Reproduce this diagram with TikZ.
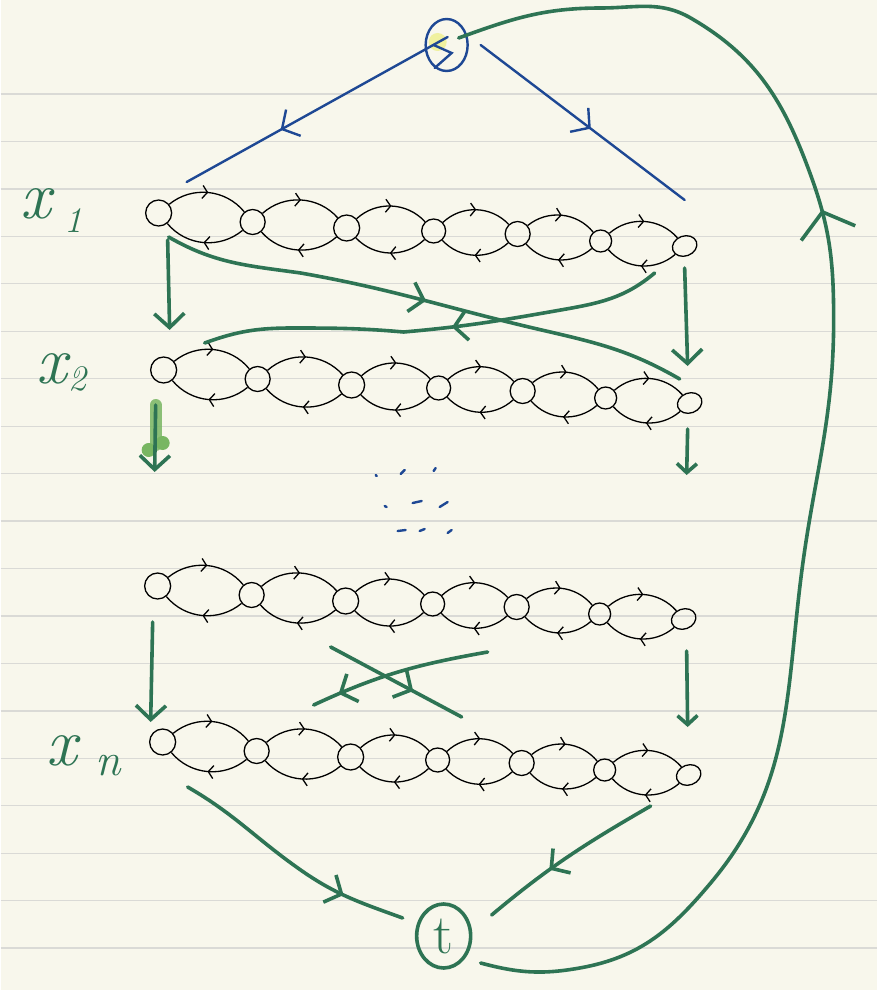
\documentclass[tikz,border=0pt]{standalone}
\usepackage{fontspec}
\usetikzlibrary{arrows.meta,decorations.markings,shapes.geometric}

\definecolor{paper}{RGB}{248,247,236}
\definecolor{rule}{RGB}{218,218,214}
\definecolor{ink}{RGB}{46,116,84}
\definecolor{pen}{RGB}{30,72,148}
\definecolor{hilite}{RGB}{120,182,98}
\definecolor{marker}{RGB}{238,240,140}

\tikzset{
  chainnode/.style={ellipse, draw=black, line width=1.3pt, inner sep=0pt},
  linkarc/.style={line width=1.3pt, postaction={decorate},
    decoration={markings, mark=at position 0.5 with {\arrow{Straight Barb[length=5pt,width=13pt]}}}},
  gline/.style={draw=ink, line width=3.6pt, line cap=round},
  bline/.style={draw=pen, line width=2.4pt, line cap=round},
  gtip/.style={-{Straight Barb[length=14pt,width=30pt]}},
  gtipsmall/.style={-{Straight Barb[length=9pt,width=20pt]}},
  midarrow/.style={postaction={decorate},
    decoration={markings, mark=at position #1 with {\arrow{Straight Barb[length=13pt,width=30pt]}}}},
  bigmid/.style={postaction={decorate},
    decoration={markings, mark=at position #1 with {\arrow{Straight Barb[length=22pt,width=56pt]}}}},
  lab/.style={text=ink, font=\fontsize{68}{68}\selectfont\itshape, inner sep=0pt, anchor=base west},
  subfont/.style={font=\fontsize{36}{36}\selectfont},
}

\begin{document}
\begin{tikzpicture}[x=1pt, y=1pt]
% ruled paper
\fill[paper] (0,0) rectangle (876,-990);
\foreach \k in {0,...,18}
  \draw[rule, line width=1.3pt] (0,-94-47.45*\k) -- (876,-94-47.45*\k);
\useasboundingbox (0,0) rectangle (876,-990);

% the four chains
\foreach \r/\dx/\y in {1/0/213, 2/5/370, 3/-1/586, 4/4/742}{
  \foreach \i/\x/\d/\w/\h/\a in {1/158/0/26/26/0, 2/252/9/25/25/0, 3/346/15/26/26/0,
      4/433/18/24/24/0, 5/517/21/25/25/0, 6/600/28/22/22/0, 7/684/33/25/20/20}
    \node[chainnode, minimum width=\w pt, minimum height=\h pt, rotate=\a] (n\r-\i) at (\x+\dx,-\y-\d) {};
  \foreach \i [count=\j from 2] in {1,...,6}{
    \draw[linkarc] (n\r-\i) to[bend left=45] (n\r-\j);
    \draw[linkarc] (n\r-\j) to[bend left=45] (n\r-\i);
  }
}

% labels
\node[lab] (lx1) at (20,-218) {x\hspace{13pt}\raisebox{-14pt}{\fontsize{36}{36}\selectfont 1}};
\node[lab] (lx2) at (36,-383) {x\hspace{1pt}\raisebox{-7pt}{\fontsize{36}{36}\selectfont 2}};
\node[lab] (lxn) at (46,-765) {x\hspace{18pt}\raisebox{-10pt}{\fontsize{46}{46}\selectfont n}};

% source
\fill[marker, opacity=.8] (437,-42) circle (9);
\node[ellipse, draw=pen, line width=2.4pt, minimum width=42pt, minimum height=52pt, inner sep=0pt] (s) at (446,-45) {};
\draw[bline] ([shift={(-13,0)}]s.center) -- ([shift={(5,-8)}]s.center) -- ([shift={(-12,-23)}]s.center);
\coordinate (a1) at (186,-182);
\coordinate (a2) at (684,-200);
\draw[bline, midarrow=0.64] ([shift={(1,8)}]s.center) -- (a1);
\draw[bline, midarrow=0.54] ([shift={(34,0)}]s.center) -- (a2);

% sink
\node[ellipse, draw=ink, line width=3.6pt, minimum width=54pt, minimum height=64pt, inner sep=0pt,
  text=ink, font=\fontsize{56}{56}\selectfont] (t) at (443,-936) {t};

% chain 1 -> chain 2
\draw[gline, gtip] ([shift={(9,-27)}]n1-1.center) -- ([shift={(6,40)}]n2-1.center);
\draw[gline, gtip] ([shift={(0,-22)}]n1-7.center) -- ([shift={(-2,37)}]n2-7.center);
\draw[gline, midarrow=0.5] ([shift={(10,-24)}]n1-1.center) to[out=-30,in=172] (300,-273)
  to[out=-10,in=167] (541,-330) to[out=-13,in=150] ([shift={(-10,24)}]n2-7.center);
\draw[gline, midarrow=0.46] ([shift={(-30,-27)}]n1-7.center) to[out=-140,in=10] (560,-310)
  to[out=-170,in=5] (403,-332) to[out=175,in=0] (292,-328) to[out=180,in=20] ([shift={(41,27)}]n2-1.center);

% chain 2 -> dots
\draw[hilite, line width=12pt, line cap=round, opacity=.85] ([shift={(-8,-35)}]n2-1.center) -- ++(0,-40);
\fill[hilite] (148,-450) circle (7);
\fill[hilite] (162,-443) circle (7);
\coordinate (d1) at (154,-472);
\coordinate (d2) at (686,-475);
\draw[gline, gtip] ([shift={(-8,-35)}]n2-1.center) -- (d1);
\draw[gline, gtipsmall] ([shift={(-2,-26)}]n2-7.center) -- (d2);

% dots
\foreach \xa/\ya/\xb/\yb in {375/475/376/476, 400/474/404/470, 433/471/435/468,
    384/506/386/507, 412/503/421/501, 439/507/447/502,
    397/531/405/530, 419/531/424/529, 447/533/451/530}
  \draw[bline] (\xa,-\ya) -- (\xb,-\yb);

% chain 3 -> chain 4
\draw[gline, gtip] ([shift={(-5,-36)}]n3-1.center) -- ([shift={(-12,20)}]n4-1.center);
\draw[gline, gtipsmall] ([shift={(3,-32)}]n3-7.center) -- ([shift={(-1,48)}]n4-7.center);
\coordinate (c1) at (330,-647);
\coordinate (c2) at (461,-717);
\coordinate (c3) at (487,-652);
\coordinate (c4) at (313,-705);
\draw[gline, midarrow=0.63] (c1) -- (c2);
\draw[gline, midarrow=0.85] (c3) to[out=190,in=25] (c4);

% chain 4 -> t
\draw[gline, midarrow=0.75] ([shift={(25,-45)}]n4-1.center) to[out=-30,in=145] (300,-870)
  to[out=-35,in=160] ([shift={(-41,18)}]t.center);
\draw[gline, midarrow=0.62] ([shift={(-38,-31)}]n4-7.center) to[out=-150,in=40] ([shift={(48,21)}]t.center);

% t -> s
\draw[gline, bigmid=0.667] ([shift={(37,-27)}]t.center) to[out=-15,in=190] (579,-968)
  to[out=10,in=230] (710,-883) to[out=50,in=-97] (800,-580) to[out=83,in=-90] (833,-320)
  to[out=90,in=-70] (810,-175) to[out=110,in=-30] (690,-18) to[out=150,in=0] (600,-8)
  to[out=180,in=20] ([shift={(12,7)}]s.center);
\end{tikzpicture}
\end{document}
